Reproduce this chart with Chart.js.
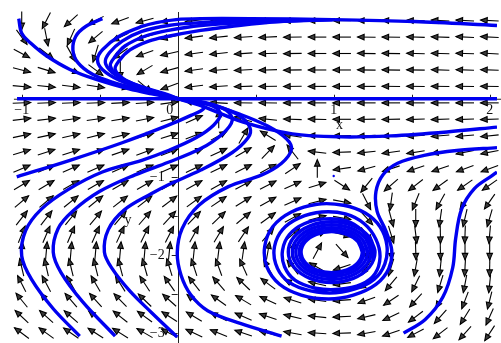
<!DOCTYPE html>
<html>
<head>
<meta charset="utf-8">
<script src="https://cdn.jsdelivr.net/npm/chart.js@4.4.1/dist/chart.umd.min.js"></script>
<style>
  html, body { margin: 0; padding: 0; background: #fff; }
  #wrap { width: 501px; height: 343px; position: relative; }
</style>
</head>
<body>
<div id="wrap"><canvas id="phase"></canvas></div>
<script>
// direction field: grid columns / rows and the arrow heading (screen degrees, ccw) per cell, top row first
const gridX = [-1, -0.842, -0.684, -0.526, -0.368, -0.211, -0.053, 0.105, 0.263, 0.421,
  0.579, 0.737, 0.895, 1.053, 1.211, 1.368, 1.526, 1.684, 1.842, 2];
const gridY = [1, 0.789, 0.579, 0.368, 0.158, -0.053, -0.263, -0.474, -0.684, -0.895,
  -1.105, -1.316, -1.526, -1.737, -1.947, -2.158, -2.368, -2.579, -2.789, -3];
const fieldAngles = [
  [-90, -117, -138, -152, -160, -165, -169, -172, -174, -176, -177, -178, -179, 180, 179, 178, 178, 177, 177, 177],
  [-54, -79, -114, -140, -155, -163, -168, -172, -174, -176, -177, -179, -180, 180, 179, 179, 178, 178, 177, 177],
  [-28, -38, -61, -107, -144, -160, -167, -172, -174, -176, -178, -179, -180, 180, 179, 179, 178, 178, 178, 177],
  [-14, -17, -23, -37, -90, -149, -165, -172, -175, -177, -178, -179, -180, 180, 179, 179, 179, 178, 178, 178],
  [-5, -6, -7, -9, -14, -40, -160, -173, -176, -178, -179, -179, -180, 180, 180, 179, 179, 179, 179, 179],
  [2, 2, 2, 2, 3, 4, 8, 167, 177, 179, 179, 180, 180, 180, 180, 180, 180, 180, 180, 180],
  [7, 7, 8, 8, 9, 11, 14, 24, 90, 164, 174, 178, 179, -180, -179, -179, -178, -178, -178, -178],
  [12, 12, 13, 14, 14, 16, 17, 21, 29, 60, 148, 171, 178, -179, -177, -176, -176, -175, -175, -174],
  [17, 18, 18, 18, 19, 20, 21, 22, 25, 30, 46, 128, 173, -178, -174, -172, -171, -170, -169, -169],
  [23, 24, 24, 24, 24, 24, 24, 25, 26, 27, 29, 34, 90, -172, -165, -162, -161, -161, -160, -160],
  [31, 31, 30, 30, 30, 30, 30, 29, 29, 28, 27, 24, 17, -33, -129, -139, -142, -144, -145, -145],
  [40, 40, 39, 39, 38, 38, 37, 36, 34, 32, 29, 24, 14, -11, -63, -98, -112, -119, -123, -125],
  [52, 52, 51, 50, 50, 49, 47, 46, 44, 40, 36, 29, 15, -10, -48, -75, -90, -98, -103, -106],
  [68, 67, 67, 66, 65, 64, 63, 61, 59, 56, 50, 41, 23, -14, -53, -73, -83, -89, -92, -95],
  [86, 85, 85, 85, 85, 85, 84, 84, 83, 82, 80, 76, 62, -48, -79, -85, -88, -89, -90, -90],
  [103, 103, 104, 104, 105, 106, 107, 108, 110, 114, 119, 128, 150, -162, -123, -107, -100, -96, -93, -91],
  [117, 118, 119, 120, 122, 123, 125, 128, 131, 136, 143, 152, 167, -173, -149, -130, -116, -107, -101, -96],
  [129, 130, 131, 132, 134, 136, 138, 141, 144, 149, 155, 162, 172, -176, -161, -146, -132, -120, -111, -104],
  [137, 138, 139, 141, 142, 144, 147, 149, 153, 156, 161, 167, 174, -177, -167, -155, -143, -132, -122, -114],
  [143, 144, 145, 147, 148, 150, 152, 155, 158, 161, 165, 170, 176, -178, -170, -161, -152, -142, -132, -123]
];

// solution curves as [x, y] pairs
const axisCurve = [[-1.03, 0], [2.05, 0]];
const upperLeft1 = [[-1.019, 1.025], [-1.0, 0.838], [-0.943, 0.713], [-0.842, 0.55], [-0.691, 0.375],
  [-0.527, 0.25], [-0.312, 0.125], [-0.167, 0.063], [-0.06, 0.025], [0, 0]];
const upperLeft2 = [[-0.483, 1.025], [-0.59, 0.925], [-0.653, 0.8], [-0.672, 0.625], [-0.64, 0.463],
  [-0.546, 0.313], [-0.42, 0.213], [-0.23, 0.113], [-0.06, 0.025], [0, 0]];
const topLoop1 = [[2.047, 0.938], [1.517, 0.988], [0.994, 1.013], [0.464, 1.025], [0.148, 1.025],
  [-0.009, 1.013], [-0.136, 0.975], [-0.23, 0.925], [-0.375, 0.8], [-0.483, 0.625], [-0.514, 0.5],
  [-0.483, 0.375], [-0.375, 0.238], [-0.211, 0.125], [-0.06, 0.038], [0, 0]];
const topLoop2 = [[0.994, 1.013], [0.464, 1.0], [0.148, 0.975], [-0.06, 0.938], [-0.23, 0.863],
  [-0.356, 0.738], [-0.438, 0.588], [-0.464, 0.463], [-0.42, 0.338], [-0.312, 0.213], [-0.167, 0.113],
  [-0.06, 0.05], [0, 0]];
const topLoop3 = [[0.994, 1.013], [0.464, 0.975], [0.148, 0.938], [-0.06, 0.875], [-0.211, 0.8],
  [-0.338, 0.675], [-0.407, 0.525], [-0.432, 0.425], [-0.388, 0.3], [-0.274, 0.175], [-0.136, 0.088], [0, 0]];
const topLoop4 = [[0.994, 1.013], [0.653, 0.988], [0.338, 0.925], [0.148, 0.875], [-0.06, 0.8],
  [-0.186, 0.738], [-0.306, 0.625], [-0.375, 0.488], [-0.401, 0.375], [-0.344, 0.25], [-0.23, 0.15],
  [-0.104, 0.063], [0, 0]];
const leftEntry = [[-1.032, -1.0], [-0.691, -0.788], [-0.356, -0.563], [-0.06, -0.338], [0.085, -0.213],
  [0.167, -0.125], [0.136, -0.063], [0.073, -0.025], [0, 0]];
const hairpin1 = [[-0.628, -3.038], [-0.798, -2.688], [-0.937, -2.313], [-1.0, -2.013], [-0.975, -1.688],
  [-0.874, -1.413], [-0.703, -1.163], [-0.483, -0.938], [-0.23, -0.788], [-0.06, -0.663], [0.117, -0.5],
  [0.23, -0.338], [0.274, -0.2], [0.23, -0.1], [0.117, -0.038], [0, 0]];
const hairpin2 = [[-0.401, -3.038], [-0.609, -2.6], [-0.748, -2.225], [-0.798, -1.963], [-0.767, -1.663],
  [-0.672, -1.438], [-0.502, -1.188], [-0.274, -0.975], [-0.06, -0.813], [0.148, -0.638], [0.287, -0.45],
  [0.35, -0.275], [0.312, -0.15], [0.18, -0.05], [0, 0]];
const hairpin3 = [[-0.003, -3.05], [-0.167, -2.738], [-0.306, -2.463], [-0.42, -2.175], [-0.47, -1.963],
  [-0.445, -1.675], [-0.344, -1.425], [-0.167, -1.213], [-0.06, -1.1], [0.148, -0.913], [0.35, -0.688],
  [0.451, -0.5], [0.464, -0.375], [0.401, -0.225], [0.243, -0.088], [0, 0]];
const hairpin4 = [[0.666, -3.038], [0.401, -2.875], [0.192, -2.713], [0.085, -2.513], [0.022, -2.263],
  [-0.003, -1.975], [0.028, -1.663], [0.136, -1.363], [0.325, -1.125], [0.539, -0.975], [0.666, -0.825],
  [0.729, -0.65], [0.697, -0.513], [0.577, -0.35], [0.401, -0.2], [0.211, -0.075], [0, 0]];
const rightEntry = [[2.047, -0.363], [1.726, -0.425], [1.366, -0.475], [1.05, -0.488], [0.735, -0.45],
  [0.42, -0.3], [0.148, -0.088], [0, 0]];
const spiralIn = [[2.047, -0.625], [1.789, -0.663], [1.58, -0.725], [1.41, -0.825], [1.315, -0.975],
  [1.271, -1.188], [1.278, -1.438], [1.334, -1.688], [1.372, -1.938], [1.353, -2.175], [1.271, -2.375],
  [1.126, -2.513], [0.968, -2.563], [0.792, -2.513], [0.653, -2.375], [0.571, -2.15], [0.558, -1.888],
  [0.609, -1.638], [0.729, -1.45], [0.893, -1.35], [1.063, -1.363], [1.202, -1.463], [1.297, -1.638],
  [1.341, -1.875], [1.328, -2.113], [1.259, -2.313], [1.132, -2.438], [0.975, -2.488], [0.811, -2.438],
  [0.691, -2.313], [0.628, -2.113], [0.621, -1.888], [0.672, -1.675], [0.779, -1.525], [0.924, -1.45],
  [1.076, -1.475], [1.196, -1.6], [1.271, -1.8], [1.297, -2.025], [1.265, -2.238], [1.177, -2.375],
  [1.038, -2.438], [0.886, -2.425], [0.754, -2.325], [0.685, -2.15], [0.672, -1.938], [0.716, -1.738],
  [0.811, -1.6], [0.943, -1.538], [1.082, -1.563], [1.183, -1.688], [1.24, -1.875], [1.252, -2.063]];
const cycleA = [[1.265, -1.963], [1.228, -1.769], [1.126, -1.627], [0.987, -1.575], [0.848, -1.627],
  [0.746, -1.769], [0.709, -1.963], [0.746, -2.157], [0.848, -2.299], [0.987, -2.351], [1.126, -2.299],
  [1.228, -2.157], [1.265, -1.963], [1.228, -1.769]];
const cycleB = [[1.239, -1.963], [1.205, -1.788], [1.113, -1.66], [0.987, -1.613], [0.861, -1.66],
  [0.769, -1.788], [0.735, -1.963], [0.769, -2.138], [0.861, -2.266], [0.987, -2.313], [1.113, -2.266],
  [1.205, -2.138], [1.239, -1.963], [1.205, -1.788]];
const cycleC = [[1.217, -1.963], [1.186, -1.806], [1.102, -1.692], [0.987, -1.65], [0.872, -1.692],
  [0.788, -1.806], [0.757, -1.963], [0.788, -2.12], [0.872, -2.234], [0.987, -2.276], [1.102, -2.234],
  [1.186, -2.12], [1.217, -1.963], [1.186, -1.806]];
const cycleD = [[1.195, -1.963], [1.167, -1.822], [1.091, -1.72], [0.987, -1.682], [0.883, -1.72],
  [0.807, -1.822], [0.779, -1.963], [0.807, -2.104], [0.883, -2.206], [0.987, -2.244], [1.091, -2.206],
  [1.167, -2.104], [1.195, -1.963], [1.167, -1.822]];
const cycleE = [[1.183, -1.963], [1.157, -1.831], [1.085, -1.735], [0.987, -1.7], [0.889, -1.735],
  [0.817, -1.831], [0.791, -1.963], [0.817, -2.095], [0.889, -2.191], [0.987, -2.226], [1.085, -2.191],
  [1.157, -2.095], [1.183, -1.963], [1.157, -1.831]];
const rightDescent = [[2.047, -0.938], [2.022, -0.975], [1.902, -1.15], [1.82, -1.413], [1.782, -1.788],
  [1.763, -2.163], [1.7, -2.538], [1.587, -2.825], [1.448, -3.0]];
const saddleStart = [[1.0, -0.988]];

const curves = [axisCurve, upperLeft1, upperLeft2, topLoop1, topLoop2, topLoop3, topLoop4,
  leftEntry, hairpin1, hairpin2, hairpin3, hairpin4, rightEntry, spiralIn,
  cycleA, cycleB, cycleC, cycleD, cycleE, rightDescent];

// axes
const xRange = [-1.1136, 2.047];
const yRange = [-3.075, 1.2125];
const xTickMarks = [-1, -0.5, 0.5, 1, 1.5, 2];
const xTickLabels = [[-1, '\u22121'], [0, '0'], [1, '1'], [2, '2']];
const yTickMarks = [-0.5, -1, -1.5, -2, -2.5, -3];
const yTickLabels = [[-1, '\u22121'], [-2, '\u22122'], [-3, '\u22123']];
const xAxisName = { text: 'x', x: 1.038, y: -0.34 };
const yAxisName = { text: 'y', x: -0.319, y: -1.56 };

const BLUE = 'rgb(0, 0, 240)';
const ARROW_LEN = 18;
const HEAD_LEN = 6.5;
const HEAD_HALF = 2.8;

function drawArrow(ctx, cx, cy, deg) {
  const a = deg * Math.PI / 180;
  const ux = Math.cos(a), uy = -Math.sin(a);
  const h = ARROW_LEN / 2;
  const tipX = cx + ux * h, tipY = cy + uy * h;
  ctx.beginPath();
  ctx.moveTo(cx - ux * h, cy - uy * h);
  ctx.lineTo(tipX, tipY);
  ctx.stroke();
  const bx = tipX - ux * HEAD_LEN, by = tipY - uy * HEAD_LEN;
  ctx.beginPath();
  ctx.moveTo(tipX, tipY);
  ctx.lineTo(bx - uy * HEAD_HALF, by + ux * HEAD_HALF);
  ctx.lineTo(bx + uy * HEAD_HALF, by - ux * HEAD_HALF);
  ctx.closePath();
  ctx.fill();
  ctx.stroke();
}

const fieldPlugin = {
  id: 'fieldAndAxes',
  beforeDatasetsDraw(chart) {
    const { ctx, scales: { x, y } } = chart;
    ctx.save();

    // axes through the origin
    const ox = x.getPixelForValue(0), oy = y.getPixelForValue(0);
    ctx.strokeStyle = '#222';
    ctx.lineWidth = 1;
    ctx.beginPath();
    ctx.moveTo(x.getPixelForValue(-1.05), oy + 0.5);
    ctx.lineTo(chart.width, oy + 0.5);
    ctx.moveTo(Math.round(ox) + 0.5, y.getPixelForValue(1.11));
    ctx.lineTo(Math.round(ox) + 0.5, chart.height);
    xTickMarks.forEach(v => {
      const px = Math.round(x.getPixelForValue(v)) + 0.5;
      ctx.moveTo(px, oy - 4);
      ctx.lineTo(px, oy);
    });
    yTickMarks.forEach(v => {
      const py = Math.round(y.getPixelForValue(v)) + 0.5;
      ctx.moveTo(ox - 6, py);
      ctx.lineTo(ox, py);
    });
    ctx.stroke();

    ctx.fillStyle = '#111';
    ctx.font = '14px "Liberation Serif", serif';
    ctx.textBaseline = 'top';
    ctx.textAlign = 'center';
    xTickLabels.forEach(([v, t]) => {
      const px = x.getPixelForValue(v) + (v === 0 ? -8 : 0);
      ctx.fillText(t, px, oy + 5);
    });
    ctx.textAlign = 'right';
    ctx.textBaseline = 'middle';
    yTickLabels.forEach(([v, t]) => {
      ctx.fillText(t, ox - 13, y.getPixelForValue(v));
    });
    ctx.textAlign = 'center';
    [xAxisName, yAxisName].forEach(n => {
      ctx.fillText(n.text, x.getPixelForValue(n.x), y.getPixelForValue(n.y));
    });

    // direction arrows
    ctx.strokeStyle = '#000';
    ctx.fillStyle = '#3a3a3a';
    ctx.lineWidth = 1.1;
    gridY.forEach((gy, j) => {
      gridX.forEach((gx, i) => {
        drawArrow(ctx, x.getPixelForValue(gx), y.getPixelForValue(gy), fieldAngles[j][i]);
      });
    });
    ctx.restore();
  }
};

const datasets = curves.map(c => ({
  data: c.map(([px, py]) => ({ x: px, y: py })),
  showLine: true,
  borderColor: BLUE,
  borderWidth: 3.4,
  pointRadius: 0,
  tension: 0.35,
  fill: false
}));
datasets.push({
  data: saddleStart.map(([px, py]) => ({ x: px, y: py })),
  showLine: false,
  pointRadius: 1.2,
  pointBackgroundColor: BLUE,
  pointBorderWidth: 0
});

new Chart(document.getElementById('phase'), {
  type: 'scatter',
  data: { datasets },
  options: {
    responsive: true,
    maintainAspectRatio: false,
    animation: false,
    layout: { padding: 0 },
    plugins: { legend: { display: false }, tooltip: { enabled: false } },
    scales: {
      x: { type: 'linear', min: xRange[0], max: xRange[1], display: false },
      y: { type: 'linear', min: yRange[0], max: yRange[1], display: false }
    }
  },
  plugins: [fieldPlugin]
});
</script>
</body>
</html>
